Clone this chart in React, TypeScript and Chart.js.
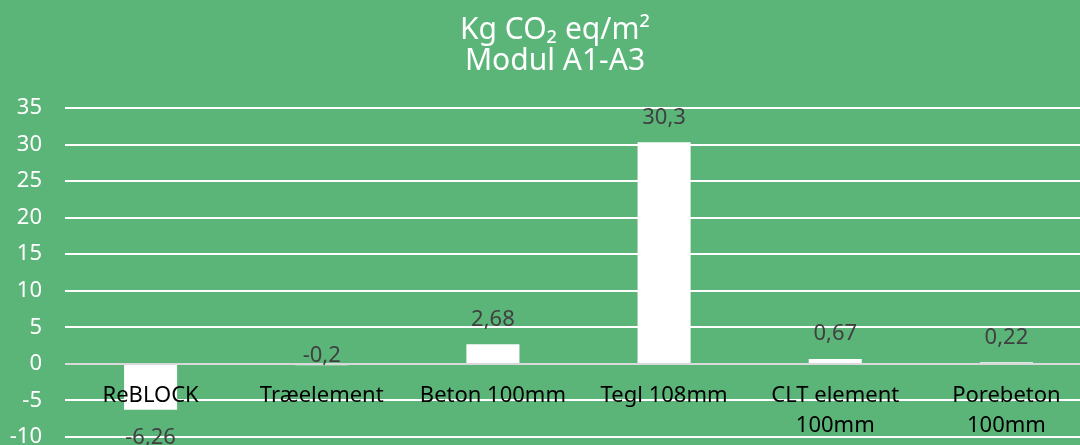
import React, { useEffect, useRef } from "react";
import { Chart, registerables } from "chart.js";

Chart.register(...registerables);

const categories: (string | string[])[] = [
  "ReBLOCK",
  "Træelement",
  "Beton 100mm",
  "Tegl 108mm",
  ["CLT element", "100mm"],
  ["Porebeton", "100mm"],
];
const values: number[] = [-6.26, -0.2, 2.68, 30.3, 0.67, 0.22];
const titleLines: string[] = ["Kg CO₂ eq/m²", "Modul A1-A3"];
const yMin = -10;
const yMax = 35;
const yStep = 5;

const BG = "#5bb579";
const FONT = "'Noto Sans', 'Open Sans', sans-serif";

const dataLabelPlugin = {
  id: "dataLabels",
  afterDatasetsDraw(chart: any) {
    const ctx = chart.ctx;
    const meta = chart.getDatasetMeta(0);
    ctx.save();
    ctx.font = `22px ${FONT}`;
    ctx.fillStyle = "#404040";
    ctx.textAlign = "center";
    ctx.textBaseline = "middle";
    meta.data.forEach((el: any, i: number) => {
      const v = values[i];
      const text = String(v).replace(".", ",");
      let y: number;
      if (v >= 0) {
        y = el.y - 25;
      } else if (el.y - el.base > 10) {
        y = el.y + 28;
      } else {
        y = el.base - 9;
      }
      ctx.fillText(text, el.x, y);
    });
    ctx.restore();
  },
};

const titlePlugin = {
  id: "centredTitle",
  afterDraw(chart: any) {
    const ctx = chart.ctx;
    ctx.save();
    ctx.font = `30px ${FONT}`;
    ctx.fillStyle = "#ffffff";
    ctx.textAlign = "center";
    ctx.textBaseline = "middle";
    titleLines.forEach((line, i) => {
      ctx.fillText(line, 555, 30 + i * 31);
    });
    ctx.restore();
  },
};

export default function App() {
  const canvasRef = useRef<HTMLCanvasElement | null>(null);

  useEffect(() => {
    document.body.style.margin = "0";
    const canvas = canvasRef.current;
    if (!canvas) return;
    const chart = new Chart(canvas, {
      type: "bar",
      data: {
        labels: categories as any,
        datasets: [
          {
            data: values,
            backgroundColor: "#ffffff",
            borderWidth: 0,
            categoryPercentage: 1,
            barPercentage: 0.31,
          },
        ],
      },
      options: {
        animation: false,
        responsive: true,
        maintainAspectRatio: false,
        layout: { padding: { left: 0, right: 0, top: 108, bottom: 8 } },
        plugins: {
          legend: { display: false },
          tooltip: { enabled: false },
          title: { display: false },
        },
        scales: {
          x: {
            position: { y: 0 } as any,
            grid: { display: false, drawTicks: false },
            border: { display: false },
            ticks: {
              z: 1,
              color: "#000000",
              font: { family: FONT, size: 22, lineHeight: 1.36 },
              padding: 17,
              maxRotation: 0,
              autoSkip: false,
            },
            afterFit: (s: any) => {
              s.height = 0;
              s.paddingLeft = 0;
              s.paddingRight = 0;
            },
          },
          y: {
            min: yMin,
            max: yMax,
            ticks: {
              stepSize: yStep,
              color: "#ffffff",
              font: { family: FONT, size: 22 },
              padding: 23,
            },
            grid: {
              drawTicks: false,
              lineWidth: 2,
              color: (c: any) => (c.tick && c.tick.value === 0 ? "#d9d9d9" : "#ffffff"),
            },
            border: { display: false },
            afterFit: (s: any) => {
              s.width = 65;
              s.paddingTop = 0;
              s.paddingBottom = 0;
            },
          },
        },
      },
      plugins: [dataLabelPlugin, titlePlugin],
    });
    return () => chart.destroy();
  }, []);

  return (
    <div style={{ width: 1080, height: 445, background: BG, overflow: "hidden", position: "relative" }}>
      <div style={{ width: 1092, height: 445, position: "relative" }}>
        <canvas ref={canvasRef} />
      </div>
    </div>
  );
}
